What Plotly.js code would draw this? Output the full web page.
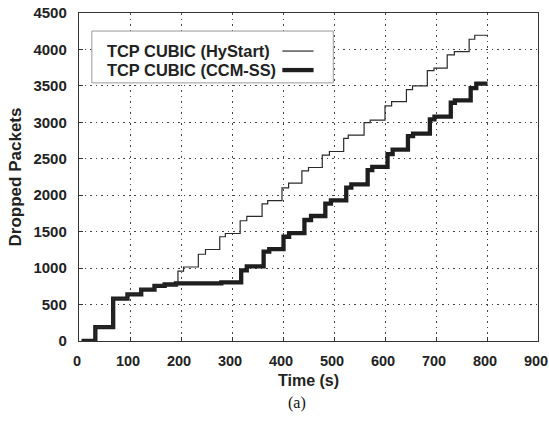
<!DOCTYPE html>
<html>
<head>
<meta charset="utf-8">
<script src="https://cdn.plot.ly/plotly-3.0.1.min.js"></script>
<style>
html,body{margin:0;padding:0;background:#fff;}
#chart{width:549px;height:431px;}
</style>
</head>
<body>
<div id="chart"></div>
<script>
// Series: TCP CUBIC (HyStart) - step points (time s, dropped packets)
const hystartTime = [5, 32, 67, 95, 122, 150, 194, 205, 234, 248, 276, 287, 316, 329, 359, 370, 398, 411, 437, 450, 477, 491, 519, 528, 559, 571, 600, 613, 642, 654, 683, 696, 722, 736, 765, 776, 802];
const hystartDrops = [0, 190, 580, 640, 715, 770, 960, 1015, 1190, 1255, 1430, 1475, 1650, 1710, 1880, 1925, 2100, 2165, 2335, 2380, 2550, 2600, 2780, 2825, 2995, 3030, 3225, 3285, 3450, 3500, 3710, 3745, 3925, 3970, 4140, 4195, 4195];

// Series: TCP CUBIC (CCM-SS)
const ccmTime = [5, 32, 67, 95, 122, 148, 168, 190, 279, 318, 329, 362, 373, 401, 412, 442, 455, 483, 494, 524, 534, 566, 575, 605, 615, 645, 655, 688, 697, 729, 737, 768, 779, 801];
const ccmDrops = [0, 190, 580, 640, 705, 755, 775, 790, 805, 970, 1025, 1225, 1260, 1430, 1480, 1660, 1715, 1885, 1930, 2105, 2150, 2345, 2390, 2565, 2625, 2810, 2845, 3040, 3077, 3269, 3300, 3470, 3530, 3530];

const seriesNames = ["TCP CUBIC (HyStart)", "TCP CUBIC (CCM-SS)"];
const xTicks = [0, 100, 200, 300, 400, 500, 600, 700, 800, 900];
const yTicks = [0, 500, 1000, 1500, 2000, 2500, 3000, 3500, 4000, 4500];

const FONT = '"Liberation Sans", Arial, Helvetica, sans-serif';

const traces = [
  {x: ccmTime, y: ccmDrops, name: seriesNames[1], mode: 'lines', line: {shape: 'hv', color: '#1e1e1e', width: 4.3}, showlegend: false},
  {x: hystartTime, y: hystartDrops, name: seriesNames[0], mode: 'lines', line: {shape: 'hv', color: '#2a2a2a', width: 1.2}, showlegend: false}
];

const axisCommon = {
  showline: true, linecolor: '#333', linewidth: 1.2, mirror: true,
  showgrid: true, gridcolor: '#444', gridwidth: 1, griddash: '1.5px,4px',
  ticks: 'inside', ticklen: 4, tickcolor: '#333', tickwidth: 1,
  zeroline: false
};

const layout = {
  width: 549, height: 431,
  margin: {l: 79, r: 11, t: 13, b: 90},
  paper_bgcolor: '#fff', plot_bgcolor: '#fff',
  showlegend: false,
  xaxis: Object.assign({}, axisCommon, {
    range: [0, 900], tickvals: xTicks, ticktext: xTicks.map(String),
    tickfont: {family: FONT, size: 14.5, color: '#222', weight: 'bold'},
    ticklabelstandoff: 6, ticklabelshift: -2, ticklabeloverflow: 'allow',
    title: {text: 'Time (s)', font: {family: FONT, size: 16, color: '#222', weight: 'bold'}, standoff: 7}
  }),
  yaxis: Object.assign({}, axisCommon, {
    range: [0, 4500], tickvals: yTicks, ticktext: yTicks.map(String),
    tickfont: {family: FONT, size: 15, color: '#222', weight: 'bold'},
    ticklabelstandoff: 8,
    title: {text: 'Dropped Packets', font: {family: FONT, size: 17, color: '#222', weight: 'bold'}, standoff: 7}
  }),
  shapes: [
    {type: 'rect', xref: 'paper', yref: 'paper', x0: 0.028, x1: 0.554, y0: 0.787, y1: 0.945,
     line: {color: '#999', width: 1}, fillcolor: '#fff', layer: 'above'},
    {type: 'line', xref: 'paper', yref: 'paper', x0: 0.443, x1: 0.511, y0: 0.884, y1: 0.884,
     line: {color: '#2a2a2a', width: 1.2}, layer: 'above'},
    {type: 'line', xref: 'paper', yref: 'paper', x0: 0.443, x1: 0.511, y0: 0.826, y1: 0.826,
     line: {color: '#1e1e1e', width: 4.3}, layer: 'above'}
  ],
  annotations: [
    {xref: 'paper', yref: 'paper', x: 0.056, y: 0.884, xanchor: 'left', yanchor: 'middle', showarrow: false,
     text: seriesNames[0], font: {family: FONT, size: 16.4, color: '#222', weight: 'bold'}},
    {xref: 'paper', yref: 'paper', x: 0.056, y: 0.826, xanchor: 'left', yanchor: 'middle', showarrow: false,
     text: seriesNames[1], font: {family: FONT, size: 16.4, color: '#222', weight: 'bold'}},
    {xref: 'paper', yref: 'paper', x: 0.475, y: -0.19, xanchor: 'center', yanchor: 'middle', showarrow: false,
     text: '(a)', font: {family: '"Liberation Serif", "Times New Roman", serif', size: 16, color: '#111'}}
  ]
};

Plotly.newPlot('chart', traces, layout, {staticPlot: true, displayModeBar: false});
</script>
</body>
</html>
